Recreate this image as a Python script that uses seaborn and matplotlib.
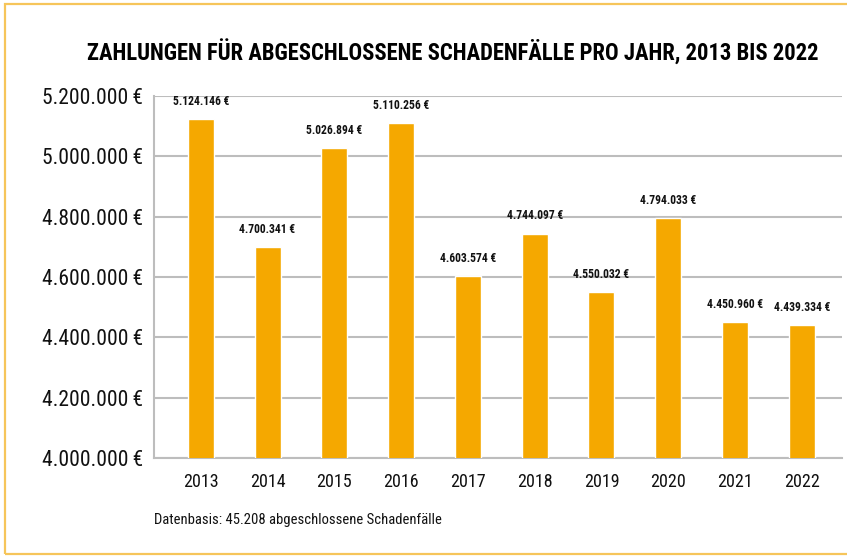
import matplotlib
matplotlib.use("Agg")
import matplotlib.pyplot as plt
from matplotlib.patches import Rectangle
from matplotlib.ticker import FuncFormatter, FixedLocator
import seaborn as sns
import pandas as pd

years = ["2013", "2014", "2015", "2016", "2017", "2018", "2019", "2020", "2021", "2022"]
payments = [5124146, 4700341, 5026894, 5110256, 4603574, 4744097, 4550032, 4794033, 4450960, 4439334]
y_ticks = [4000000, 4200000, 4400000, 4600000, 4800000, 5000000, 5200000]

title = "ZAHLUNGEN FÜR ABGESCHLOSSENE SCHADENFÄLLE PRO JAHR, 2013 BIS 2022"
footnote = "Datenbasis: 45.208 abgeschlossene Schadenfälle"

BAR = "#F5A800"
FRAME = "#F6C55A"
GRID = "#BDBDBD"
INK = "#111111"

sns.set_theme(style="white")
plt.rcParams["font.family"] = ["Roboto Condensed", "DejaVu Sans"]


def euro(v, sep=" "):
    return f"{int(v):,}".replace(",", ".") + sep + "€"


df = pd.DataFrame({"Jahr": years, "Zahlung": payments})

fig = plt.figure(figsize=(8.47, 5.56), dpi=100)
ax = fig.add_axes([0.1818, 0.1763, 0.994 - 0.1818, 0.8273 - 0.1763])

sns.barplot(data=df, x="Jahr", y="Zahlung", color=BAR, width=0.39,
            saturation=1, ax=ax, zorder=3)

ax.set_ylim(y_ticks[0], y_ticks[-1])
ax.set_xlim(-0.7, len(years) - 0.4)
ax.yaxis.set_major_locator(FixedLocator(y_ticks))
ax.yaxis.set_major_formatter(FuncFormatter(lambda v, _: euro(v, "\u2009")))
ax.grid(axis="y", color=GRID, linewidth=1.5, zorder=0)
ax.set_axisbelow(True)

for side in ("top", "right"):
    ax.spines[side].set_visible(False)
for side in ("left", "bottom"):
    ax.spines[side].set_color(GRID)
    ax.spines[side].set_linewidth(1.5)

ax.tick_params(axis="y", length=0, pad=8, labelsize=15.5, labelcolor=INK)
ax.tick_params(axis="x", which="major", length=0, pad=11, labelsize=13, labelcolor=INK)
ax.set_xticks([i + 0.5 for i in range(len(years) - 1)], minor=True)
ax.tick_params(axis="x", which="minor", direction="in", length=9, width=1.5, color=GRID)
ax.set_xlabel("")
ax.set_ylabel("")

for i, v in enumerate(payments):
    ax.annotate(euro(v), (i, v), xytext=(0, 8), textcoords="offset points",
                ha="center", va="bottom", fontsize=8.4, fontweight="bold",
                color=INK)

fig.text(0.534, 0.906, title, ha="center", va="center", fontsize=16.3,
         fontweight="bold", color="#000000")
fig.text(0.1818, 0.064, footnote, ha="left", va="center", fontsize=10.5,
         color=INK)

fig.patches.append(Rectangle((0.006, 0.003), 1.2, 0.99, transform=fig.transFigure,
                             fill=False, edgecolor=FRAME, linewidth=1.6))

fig.savefig("out.png", dpi=100, facecolor="white")
